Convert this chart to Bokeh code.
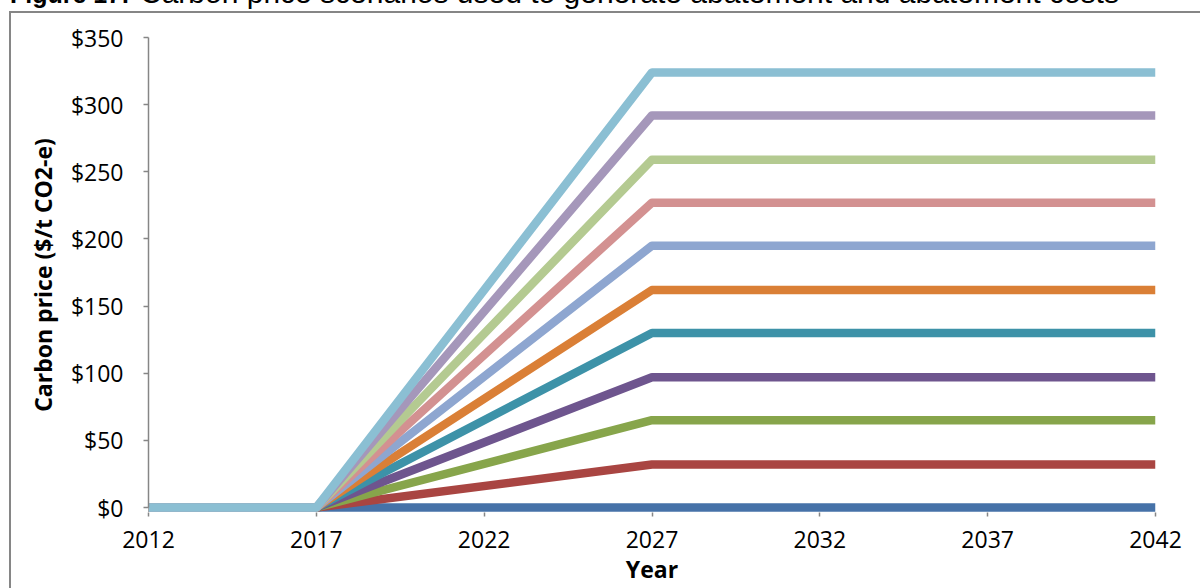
from bokeh.plotting import figure
from bokeh.models import Range1d, FixedTicker, Div
from bokeh.layouts import column, row
from bokeh.embed import file_html
from bokeh.resources import INLINE

# ---- data ----
years = [2012, 2017, 2027, 2042]
price_s1 = [0, 0, 0, 0]
price_s2 = [0, 0, 32, 32]
price_s3 = [0, 0, 65, 65]
price_s4 = [0, 0, 97, 97]
price_s5 = [0, 0, 130, 130]
price_s6 = [0, 0, 162, 162]
price_s7 = [0, 0, 195, 195]
price_s8 = [0, 0, 227, 227]
price_s9 = [0, 0, 259, 259]
price_s10 = [0, 0, 292, 292]
price_s11 = [0, 0, 324, 324]

x_ticks = [2012, 2017, 2022, 2027, 2032, 2037, 2042]
y_ticks = [0, 50, 100, 150, 200, 250, 300, 350]
y_tick_labels = ["$0", "$50", "$100", "$150", "$200", "$250", "$300", "$350"]

title_bold = "Figure 17:"
title_rest = "Carbon price scenarios used to generate abatement and abatement costs"
x_title = "Year"
y_title = "Carbon price ($/t CO2-e)"

series = [price_s1, price_s2, price_s3, price_s4, price_s5, price_s6,
          price_s7, price_s8, price_s9, price_s10, price_s11]
colors = ["#4672A8", "#A94542", "#87A54B", "#6E558E", "#3D92A8", "#DA7F36",
          "#8EA6D0", "#D39191", "#B4CA91", "#A597BA", "#8BBFD3"]

AX = "#868686"
TICK_FONT = "Open Sans"

# page geometry
CAP_H = 11          # caption strip height
LINE_W = 2          # border line thickness
BOX_X = 9           # left border x
PX0 = BOX_X + LINE_W
PY0 = CAP_H + LINE_W
W = 1200 - PX0
H = 588 - PY0
frame_left, frame_right, frame_top, frame_bottom = 148 - PX0, 1155 - PX0, 37 - PY0, 512 - PY0
px_per_unit = (507 - 37) / 350.0
pad_units = 5 / px_per_unit  # keep the $0 line from being clipped

p = figure(width=W, height=H, output_backend="svg", toolbar_location=None,
           x_range=Range1d(2012, 2042), y_range=Range1d(-pad_units, 350),
           min_border_left=frame_left, min_border_right=W - frame_right,
           min_border_top=frame_top, min_border_bottom=H - frame_bottom,
           margin=(0, 0, 0, 0))
p.outline_line_color = None
p.xgrid.visible = False
p.ygrid.visible = False
p.background_fill_color = "white"
p.border_fill_color = "white"

for ys, c in zip(series, colors):
    p.line(years, ys, line_color=c, line_width=8.5, line_join="round", line_cap="butt")

# x axis
xa = p.xaxis[0]
xa.ticker = FixedTicker(ticks=x_ticks)
xa.axis_line_color = None
xa.major_tick_line_color = AX
xa.major_tick_line_width = 1.5
xa.major_tick_in = 0
xa.major_tick_out = 4
xa.minor_tick_line_color = None
xa.major_label_text_font = TICK_FONT
xa.major_label_text_font_size = "23px"
xa.major_label_text_color = "black"
xa.major_label_standoff = 14
xa.axis_label = x_title
xa.axis_label_text_font = TICK_FONT
xa.axis_label_text_font_style = "bold"
xa.axis_label_text_font_size = "23px"
xa.axis_label_text_color = "black"
xa.axis_label_standoff = 2

# y axis
ya = p.yaxis[0]
ya.ticker = FixedTicker(ticks=y_ticks)
ya.major_label_overrides = {t: l for t, l in zip(y_ticks, y_tick_labels)}
ya.bounds = (0, 350)
ya.axis_line_color = AX
ya.axis_line_width = 1.5
ya.major_tick_line_color = AX
ya.major_tick_line_width = 1.5
ya.major_tick_in = 0
ya.major_tick_out = 5
ya.minor_tick_line_color = None
ya.major_label_text_font = TICK_FONT
ya.major_label_text_font_size = "23px"
ya.major_label_text_color = "black"
ya.major_label_standoff = 20
ya.axis_label = y_title
ya.axis_label_text_font = TICK_FONT
ya.axis_label_text_font_style = "bold"
ya.axis_label_text_font_size = "23px"
ya.axis_label_text_color = "black"
ya.axis_label_standoff = 9

# caption strip, cut off at the top like the reference
caption = Div(
    text=('<div style="position:absolute; top:-18px; left:10px; white-space:nowrap; '
          'font-weight:bold; font-size:25px; line-height:25px;">%s</div>'
          '<div style="position:absolute; top:-22px; left:140px; white-space:nowrap; '
          'font-size:30px; line-height:30px;">%s</div>') % (title_bold, title_rest),
    width=1200, height=CAP_H, margin=(0, 0, 0, 0),
    styles={"overflow": "hidden", "position": "relative",
            "font-family": "'Liberation Sans', Arial, sans-serif", "color": "black"})

# chart border box (top and left edges visible)
top_line = Div(text="", width=1200 - BOX_X, height=LINE_W, margin=(0, 0, 0, BOX_X),
               styles={"background-color": AX})
left_line = Div(text="", width=LINE_W, height=H, margin=(0, 0, 0, BOX_X),
                styles={"background-color": AX})

layout = column(caption, top_line, row(left_line, p, spacing=0, margin=(0, 0, 0, 0)),
                spacing=0, margin=(0, 0, 0, 0))

open("out.html", "w").write(file_html(layout, INLINE))
